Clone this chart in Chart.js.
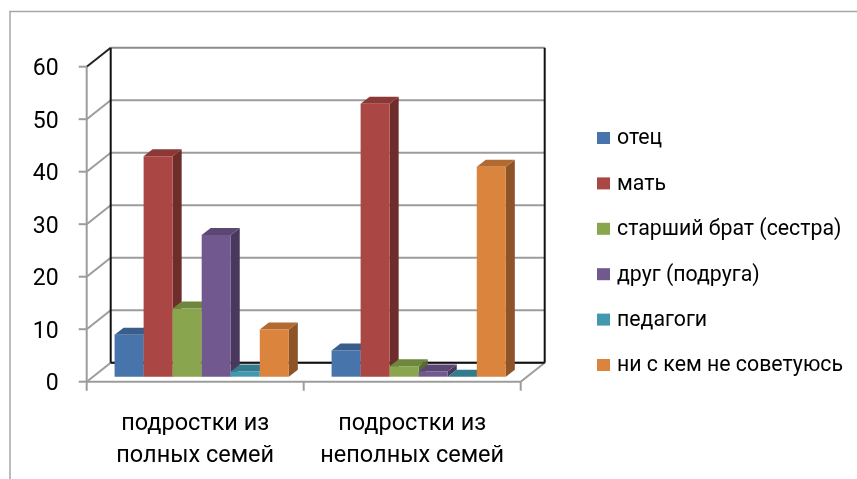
<!DOCTYPE html>
<html>
<head>
<meta charset="utf-8">
<script src="https://cdn.jsdelivr.net/npm/chart.js@4"></script>
<style>
  html, body { margin: 0; padding: 0; background: #fff; }
</style>
</head>
<body>
<canvas id="chart" width="857" height="479"></canvas>
<script>
const categories = [['подростки из', 'полных семей'], ['подростки из', 'неполных семей']];
const seriesNames = ['отец', 'мать', 'старший брат (сестра)', 'друг (подруга)', 'педагоги', 'ни с кем не советуюсь'];
const father = [8, 5];
const mother = [42, 52];
const olderSibling = [13, 2];
const friend = [27, 1];
const teachers = [1, 0];
const nobody = [9, 40];
const yMin = 0, yMax = 60, yStep = 10;

const frontColors = ['#4674AB', '#AA4643', '#89A54E', '#71588F', '#4198AF', '#DB843D'];
const topColors   = ['#395E8B', '#8B3836', '#6F863F', '#5B4774', '#347B8E', '#B26A31'];
const sideColors  = ['#2E4C71', '#6E2C2A', '#586B32', '#48385C', '#2A6372', '#8D5427'];

const DX = 24, DY = -19;    // wall depth
const BX = 6.5, BY = -5;    // bars sit a little behind the front plane
const FX = 9, FY = -7;      // bar depth

const seriesValues = [father, mother, olderSibling, friend, teachers, nobody];

function line(ctx, x1, y1, x2, y2, color, w) {
  ctx.beginPath();
  ctx.strokeStyle = color;
  ctx.lineWidth = w;
  ctx.moveTo(x1, y1);
  ctx.lineTo(x2, y2);
  ctx.stroke();
}
function poly(ctx, pts, color) {
  ctx.beginPath();
  ctx.fillStyle = color;
  ctx.moveTo(pts[0][0], pts[0][1]);
  for (let k = 1; k < pts.length; k++) ctx.lineTo(pts[k][0], pts[k][1]);
  ctx.closePath();
  ctx.fill();
}

const box3d = {
  id: 'box3d',
  beforeDraw(chart) {
    const ctx = chart.ctx;
    ctx.save();
    ctx.strokeStyle = '#a6a6a6';
    ctx.lineWidth = 1.5;
    ctx.strokeRect(10, 11.5, 900, 900);
    ctx.restore();
  },
  beforeDatasetsDraw(chart) {
    const ctx = chart.ctx;
    const { left, right, top, bottom } = chart.chartArea;
    const ys = chart.scales.y;
    const grey = '#9c9c9c';
    ctx.save();
    ys.ticks.forEach(t => {
      const py = ys.getPixelForValue(t.value);
      if (t.value !== yMax) line(ctx, left + DX, py + DY, right + DX, py + DY, grey, 2);
      line(ctx, left, py, left + DX, py + DY, t.value === yMax ? '#222' : grey, 2);
      line(ctx, left - 8, py, left, py, grey, 2);
    });
    line(ctx, left + DX, top + DY, right + DX, top + DY, '#8c8c8c', 2);
    // front axis and floor
    line(ctx, left, top, left, bottom + 9, grey, 2);
    line(ctx, left, bottom, right, bottom, grey, 2);
    line(ctx, right, bottom, right + DX, bottom + DY, grey, 2);
    const mid = (left + right) / 2;
    line(ctx, mid, bottom, mid, bottom + 9, grey, 2);
    line(ctx, right, bottom, right, bottom + 9, grey, 2);
    // back edges
    line(ctx, left + DX, top + DY, left + DX, bottom + DY, '#111', 2);
    line(ctx, right + DX, top + DY, right + DX, bottom + DY, '#111', 2);
    line(ctx, left + DX, bottom + DY, right + DX, bottom + DY, '#111', 2);
    ctx.restore();
  },
  beforeDatasetDraw() {
    return false;
  },
  afterDatasetsDraw(chart) {
    const ctx = chart.ctx;
    const items = [];
    chart.data.datasets.forEach((ds, i) => {
      chart.getDatasetMeta(i).data.forEach(el => items.push({ el, i }));
    });
    items.sort((a, b) => a.el.x - b.el.x);
    ctx.save();
    ctx.translate(BX, BY);
    items.forEach(({ el, i }) => {
      const { x, y, base, width } = el.getProps(['x', 'y', 'base', 'width'], true);
      const l = x - width / 2, r = x + width / 2;
      poly(ctx, [[r, y], [r + FX, y + FY], [r + FX, base + FY], [r, base]], sideColors[i]);
      poly(ctx, [[l, y], [l + FX, y + FY], [r + FX, y + FY], [r, y]], topColors[i]);
      el.draw(ctx);
    });
    ctx.restore();
  },
  afterDraw(chart) {
    const ctx = chart.ctx;
    ctx.save();
    ctx.font = '21.3px Roboto';
    ctx.textBaseline = 'middle';
    ctx.textAlign = 'left';
    chart.data.datasets.forEach((ds, i) => {
      const cy = 138 + i * 45.4;
      ctx.fillStyle = ds.backgroundColor;
      ctx.fillRect(597, cy - 6, 13, 12);
      ctx.fillStyle = '#000';
      ctx.fillText(ds.label, 617, cy + 1);
    });
    ctx.restore();
  }
};

new Chart(document.getElementById('chart'), {
  type: 'bar',
  data: {
    labels: categories,
    datasets: seriesNames.map((name, i) => ({
      label: name,
      data: seriesValues[i],
      backgroundColor: frontColors[i],
      borderWidth: 0,
      barPercentage: 1,
      categoryPercentage: 0.803
    }))
  },
  options: {
    responsive: false,
    devicePixelRatio: 1,
    animation: false,
    layout: { padding: { top: 66.7, right: 336.3, bottom: 0, left: 0 } },
    plugins: {
      legend: { display: false },
      tooltip: { enabled: false }
    },
    scales: {
      x: {
        grid: { display: false },
        border: { display: false },
        ticks: {
          color: '#000',
          font: { family: 'Roboto', size: 23.5, lineHeight: 32 / 23.5 },
          padding: 18,
          maxRotation: 0,
          autoSkip: false
        },
        afterFit(s) { s.height = 97.3; }
      },
      y: {
        min: yMin,
        max: yMax,
        grid: { display: false },
        border: { display: false },
        ticks: {
          stepSize: yStep,
          color: '#000',
          font: { family: 'Roboto', size: 23 },
          padding: 20,
          labelOffset: 3
        },
        afterFit(s) { s.width = 86.7; }
      }
    }
  },
  plugins: [box3d]
});
</script>
</body>
</html>
